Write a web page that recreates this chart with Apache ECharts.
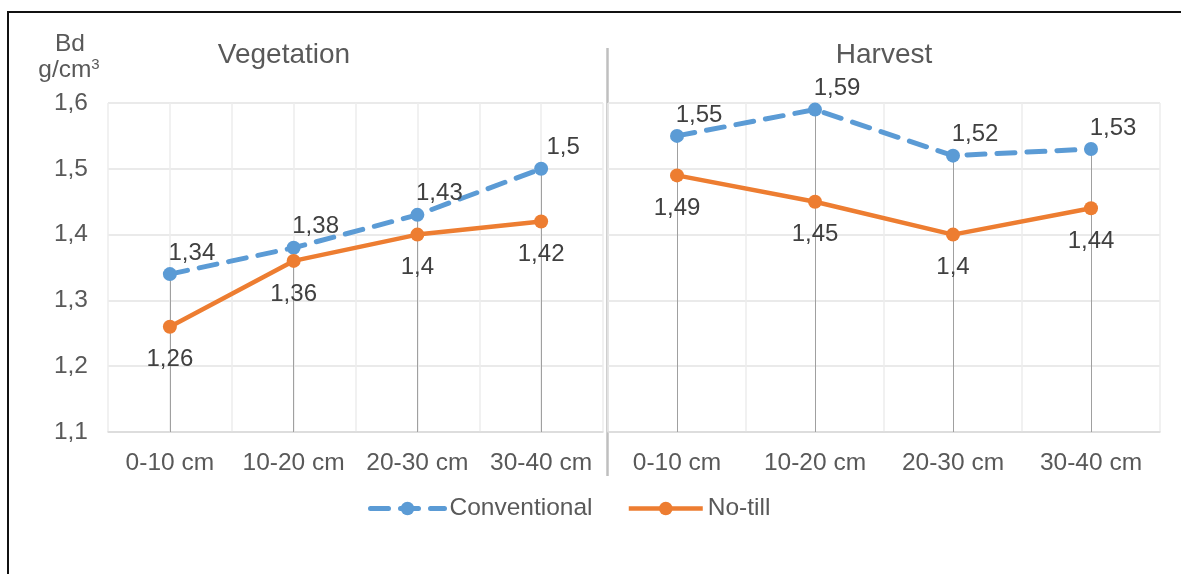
<!DOCTYPE html>
<html>
<head>
<meta charset="utf-8">
<script src="https://cdn.jsdelivr.net/npm/echarts@6/dist/echarts.min.js"></script>
<style>html,body{margin:0;padding:0;background:#fff;}#c{width:1181px;height:574px;}</style>
</head>
<body>
<div id="c"></div>
<script>
var categories = ['0-10 cm', '10-20 cm', '20-30 cm', '30-40 cm'];
var panelTitles = ['Vegetation', 'Harvest'];
var seriesNames = ['Conventional', 'No-till'];
var convVegetation = [1.34, 1.38, 1.43, 1.50];
var notillVegetation = [1.26, 1.36, 1.40, 1.42];
var convHarvest = [1.55, 1.59, 1.52, 1.53];
var notillHarvest = [1.49, 1.45, 1.40, 1.44];
var yTicks = [1.1, 1.2, 1.3, 1.4, 1.5, 1.6];

var FONT = "'Liberation Sans', Arial, sans-serif";
var TXT = '#595959';
var BLUE = '#5B9BD5', ORANGE = '#ED7D31';
var yMin = yTicks[0], yMax = yTicks[yTicks.length - 1];
function comma(v) { return String(v).replace('.', ','); }

function dropLines(arr) {
  return {
    silent: true, symbol: 'none', z: 1, label: {show: false},
    lineStyle: {color: '#a0a0a0', width: 1, type: 'solid'},
    emphasis: {disabled: true},
    data: arr.map(function (v, i) { return [{coord: [i, v]}, {coord: [i, yMin]}]; })
  };
}
function mkSeries(name, data, xi, yi, isConv) {
  return {
    name: name, type: 'line', xAxisIndex: xi, yAxisIndex: yi, data: data, z: 3,
    symbol: 'circle', symbolSize: 14, color: isConv ? BLUE : ORANGE,
    itemStyle: {color: isConv ? BLUE : ORANGE},
    lineStyle: isConv ? {width: 5, type: [18, 12], cap: 'round', color: BLUE}
                      : {width: 4.5, color: ORANGE},
    label: {
      show: true, formatter: function (p) { return comma(p.value); },
      position: isConv ? 'top' : 'bottom', distance: isConv ? 2 : 14,
      offset: isConv ? [22, 0] : [0, 0],
      fontSize: 24, color: '#404040', fontFamily: FONT
    },
    markLine: dropLines(data),
    emphasis: {disabled: true}, animation: false
  };
}
var yAxisBase = {
  type: 'value', min: yMin, max: yMax, interval: 0.1,
  axisLine: {show: false}, axisTick: {show: false},
  splitLine: {lineStyle: {color: '#e3e3e3', width: 1.5}}
};
var option = {
  animation: false,
  textStyle: {fontFamily: FONT},
  grid: [
    {left: 108, right: 578, top: 103, bottom: 142},
    {left: 608, right: 21, top: 103, bottom: 142}
  ],
  xAxis: [
    {type: 'category', gridIndex: 0, data: categories, boundaryGap: true,
     axisLine: {lineStyle: {color: '#d9d9d9', width: 1.5}}, axisTick: {show: false},
     axisLabel: {fontSize: 24.5, color: TXT, margin: 19, fontFamily: FONT, interval: 0},
     splitLine: {show: false}},
    {type: 'category', gridIndex: 0, data: ['', '', '', '', '', '', '', ''], boundaryGap: true,
     axisLine: {show: false}, axisTick: {show: false}, axisLabel: {show: false},
     splitLine: {show: true, interval: 0, lineStyle: {color: '#ececec', width: 1.5}}},
    {type: 'category', gridIndex: 1, data: categories, boundaryGap: true,
     axisLine: {lineStyle: {color: '#d9d9d9', width: 1.5}}, axisTick: {show: false},
     axisLabel: {fontSize: 24.5, color: TXT, margin: 19, fontFamily: FONT, interval: 0},
     splitLine: {show: true, interval: 0, lineStyle: {color: '#ececec', width: 1.5}}}
  ],
  yAxis: [
    Object.assign({}, yAxisBase, {gridIndex: 0,
      axisLabel: {fontSize: 24.5, color: TXT, margin: 20, fontFamily: FONT,
                  formatter: function (v) { return v.toFixed(1).replace('.', ','); }}}),
    Object.assign({}, yAxisBase, {gridIndex: 1, axisLabel: {show: false}})
  ],
  legend: {
    data: seriesNames, left: 363, top: 491, itemWidth: 74, itemHeight: 17, itemGap: 34,
    lineStyle: {width: 'inherit'},
    textStyle: {fontSize: 24.5, color: TXT, fontFamily: FONT}, selectedMode: false
  },
  graphic: [
    {type: 'rect', shape: {x: 8, y: 12, width: 1200, height: 620},
     style: {fill: 'none', stroke: '#111', lineWidth: 2}, silent: true},
    {type: 'line', shape: {x1: 607.5, y1: 48, x2: 607.5, y2: 476},
     style: {stroke: '#bfbfbf', lineWidth: 2.5}, silent: true},
    {type: 'text', x: 70, y: 44, style: {text: 'Bd', fill: TXT, font: '24.5px ' + FONT, align: 'center', verticalAlign: 'middle'}},
    {type: 'text', x: 69, y: 70, style: {text: 'g/cm{s|3}', fill: TXT, font: '24.5px ' + FONT, align: 'center', verticalAlign: 'middle',
      rich: {s: {fontSize: 15, fontFamily: FONT, fill: TXT, verticalAlign: 'top', padding: [0, 0, 10, 0]}}}},
    {type: 'text', x: 284, y: 55, style: {text: panelTitles[0], fill: TXT, font: '28px ' + FONT, align: 'center', verticalAlign: 'middle'}},
    {type: 'text', x: 884, y: 55, style: {text: panelTitles[1], fill: TXT, font: '28px ' + FONT, align: 'center', verticalAlign: 'middle'}}
  ],
  series: [
    mkSeries(seriesNames[0], convVegetation, 0, 0, true),
    mkSeries(seriesNames[1], notillVegetation, 0, 0, false),
    mkSeries(seriesNames[0], convHarvest, 2, 1, true),
    mkSeries(seriesNames[1], notillHarvest, 2, 1, false)
  ]
};
var chart = echarts.init(document.getElementById('c'), null, {renderer: 'canvas'});
chart.setOption(option);
</script>
</body>
</html>
